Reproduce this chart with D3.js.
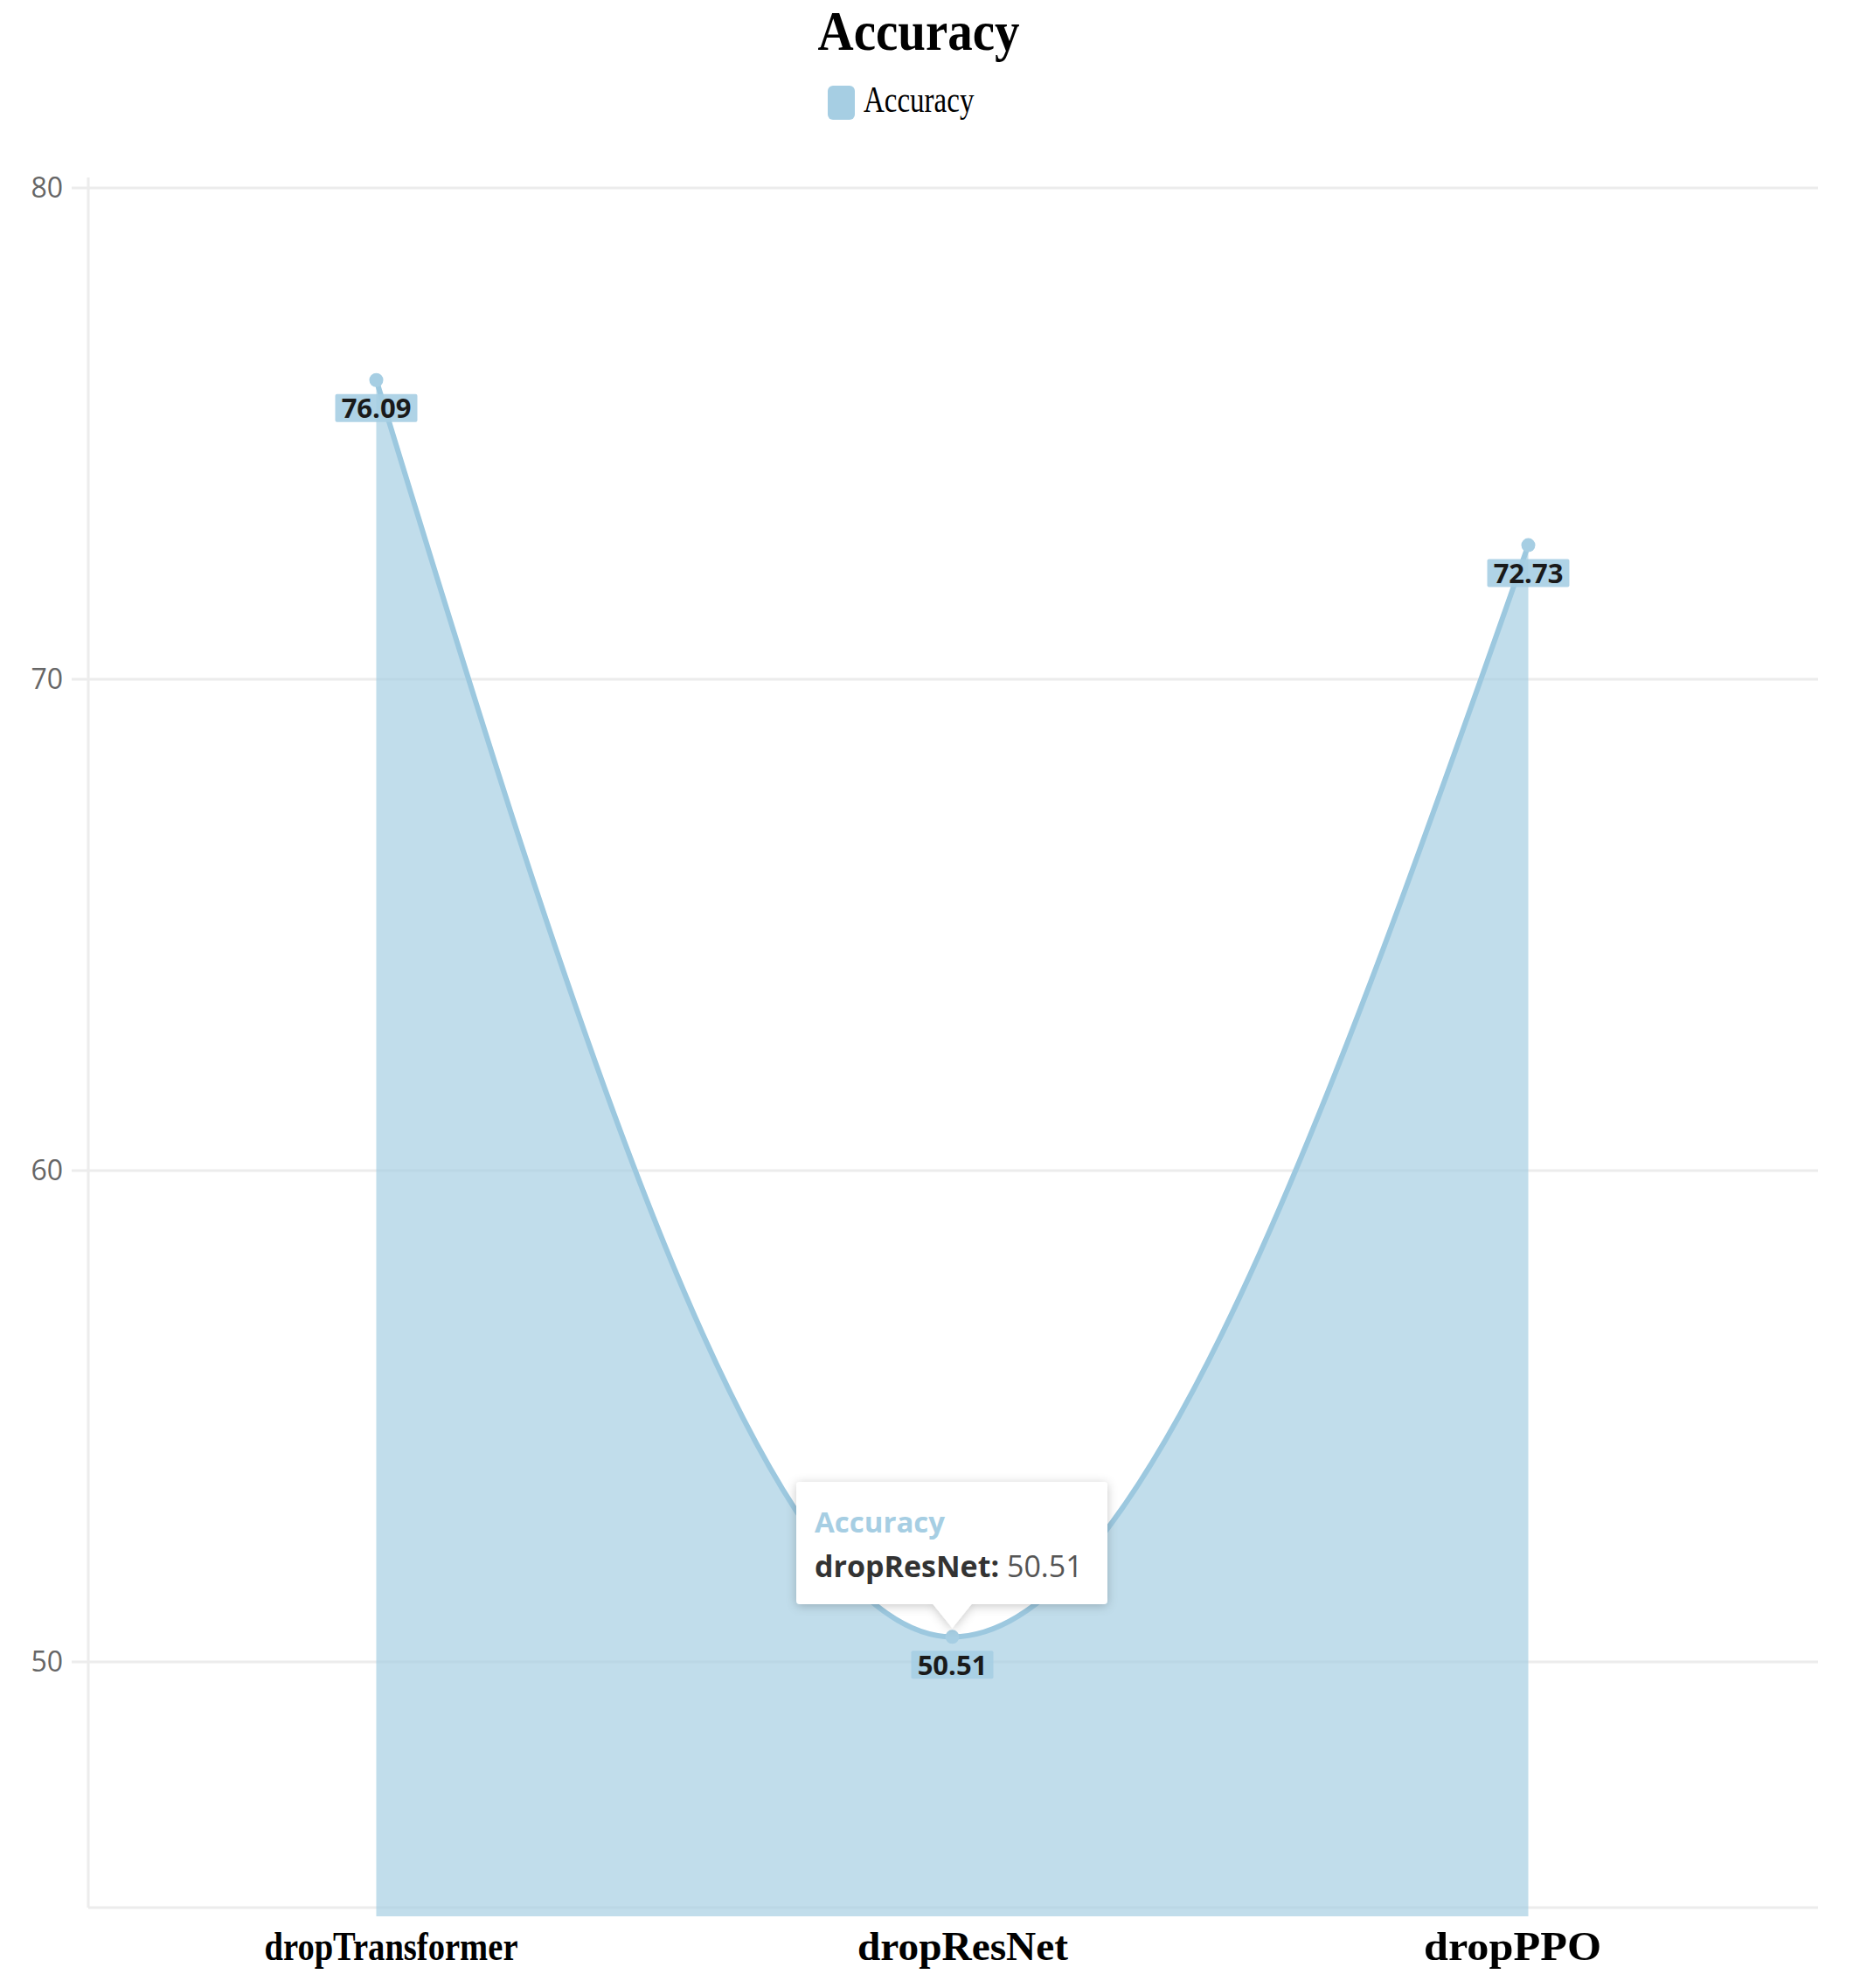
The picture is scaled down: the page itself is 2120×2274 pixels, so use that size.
<!DOCTYPE html>
<html><head><meta charset="utf-8">
<script src="https://cdn.jsdelivr.net/npm/d3@7"></script>
<style>html,body{margin:0;padding:0;background:#fff;}svg{display:block;}</style>
</head><body>
<svg id="chart" width="2120" height="2274"></svg>
<script>
const categories = ["dropTransformer", "dropResNet", "dropPPO"];
const accuracy = [76.09, 50.51, 72.73];
const yTicks = [50, 60, 70, 80];
const seriesName = "Accuracy";
const titleText = "Accuracy";
const tooltipIndex = 1;

// label layout (styling only)
const labelWidths = [290, 241, 203];
const labelShift = [17, 12, -18];

const color = "#a6cee3";
const svg = d3.select("#chart");
const defs = svg.append("defs");
const f = defs.append("filter").attr("id","shadow").attr("x","-20%").attr("y","-30%").attr("width","140%").attr("height","170%");
f.append("feDropShadow").attr("dx",0).attr("dy",2).attr("stdDeviation",6).attr("flood-color","#000").attr("flood-opacity",0.22);

const x = d3.scalePoint().domain(categories).range([101, 2078]).padding(0.5);
const y = d3.scaleLinear().domain([45, 80]).range([2182, 215]);
const right = 2080;

// grid
const grid = svg.append("g");
grid.selectAll("line.g").data(yTicks).join("line")
  .attr("x1", 82).attr("x2", right)
  .attr("y1", d => y(d)).attr("y2", d => y(d))
  .attr("stroke", "#ececec").attr("stroke-width", 3);
grid.append("line").attr("x1", 101).attr("x2", 101).attr("y1", 203).attr("y2", y(45))
  .attr("stroke", "#ececec").attr("stroke-width", 3);
grid.append("line").attr("x1", 101).attr("x2", right).attr("y1", y(45)).attr("y2", y(45))
  .attr("stroke", "#ececec").attr("stroke-width", 3);

// y tick labels
svg.append("g").selectAll("text").data(yTicks).join("text")
  .attr("x", 72).attr("y", d => y(d)).attr("dy", "0.35em")
  .attr("text-anchor", "end")
  .style("font-family", "'Open Sans', sans-serif").style("font-size", "32px").attr("fill", "#666")
  .text(d => d);

const data = categories.map((c, i) => ({c, v: accuracy[i]}));

// area
const area = d3.area().curve(d3.curveMonotoneX)
  .x(d => x(d.c)).y0(y(45) + 10).y1(d => y(d.v));
svg.append("path").datum(data).attr("d", area).attr("fill", color).attr("fill-opacity", 0.7);
const line = d3.line().curve(d3.curveMonotoneX).x(d => x(d.c)).y(d => y(d.v));
svg.append("path").datum(data).attr("d", line).attr("fill", "none").attr("stroke", "#9cc8df").attr("stroke-width", 6);

svg.append("g").selectAll("circle").data(data).join("circle")
  .attr("cx", d => x(d.c)).attr("cy", d => y(d.v)).attr("r", 8).attr("fill", color);

// data labels
const lab = svg.append("g").selectAll("g").data(data).join("g")
  .attr("transform", d => `translate(${x(d.c)},${y(d.v) + 32})`);
lab.append("rect").attr("x", -47).attr("y", -16).attr("width", 94).attr("height", 32)
  .attr("fill", color).attr("opacity", 0.9).attr("rx", 2);
lab.append("text").attr("text-anchor", "middle").attr("dy", "0.36em")
  .style("font-family", "'Open Sans', sans-serif").style("font-weight", "bold").style("font-size", "31px")
  .attr("fill", "#1a1a1a").text(d => d.v.toFixed(2));

// tooltip
const td = data[tooltipIndex];
const tx = x(td.c), ty = y(td.v);
const tt = svg.append("g").attr("filter", "url(#shadow)");
const bx0 = 911, bx1 = 1267, by0 = 1695, by1 = 1835;
tt.append("path")
  .attr("d", `M${bx0 + 4},${by0} H${bx1 - 4} Q${bx1},${by0} ${bx1},${by0 + 4} V${by1 - 4} Q${bx1},${by1} ${bx1 - 4},${by1} H${tx + 22} L${tx},${ty - 10} L${tx - 22},${by1} H${bx0 + 4} Q${bx0},${by1} ${bx0},${by1 - 4} V${by0 + 4} Q${bx0},${by0} ${bx0 + 4},${by0} Z`)
  .attr("fill", "#fff");
svg.append("text").attr("x", 932).attr("y", 1753)
  .style("font-family", "'Open Sans', sans-serif").style("font-weight", "bold").style("font-size", "33px")
  .attr("fill", color).text(seriesName);
const t2 = svg.append("text").attr("x", 932).attr("y", 1804)
  .style("font-family", "'Open Sans', sans-serif").style("font-size", "34px");
t2.append("tspan").attr("font-weight", "bold").attr("fill", "#333").text(td.c + ":");
t2.append("tspan").attr("fill", "#555").text(" " + td.v.toFixed(2));

// x labels
svg.append("g").selectAll("text").data(categories).join("text")
  .attr("x", (d, i) => x(d) + labelShift[i] - labelWidths[i] / 2).attr("y", 2242)
  .attr("textLength", (d, i) => labelWidths[i]).attr("lengthAdjust", "spacingAndGlyphs")
  .style("font-family", "'Liberation Serif', 'Times New Roman', serif").style("font-weight", "bold").style("font-size", "47px")
  .attr("fill", "#000").text(d => d);

// title
svg.append("text").attr("transform", "translate(1051,57) scale(1,1.12)").attr("text-anchor", "middle")
  .style("font-family", "'Liberation Serif', 'Times New Roman', serif").style("font-weight", "bold").style("font-size", "57px")
  .attr("fill", "#000").text(titleText);

// legend
svg.append("rect").attr("x", 947).attr("y", 98).attr("width", 31).attr("height", 39).attr("rx", 6).attr("fill", color);
svg.append("text").attr("transform", "translate(988,128) scale(1,1.25)")
  .style("font-family", "'Liberation Serif', 'Times New Roman', serif").style("font-size", "33px")
  .attr("fill", "#000").text(seriesName);
</script>
</body></html>
